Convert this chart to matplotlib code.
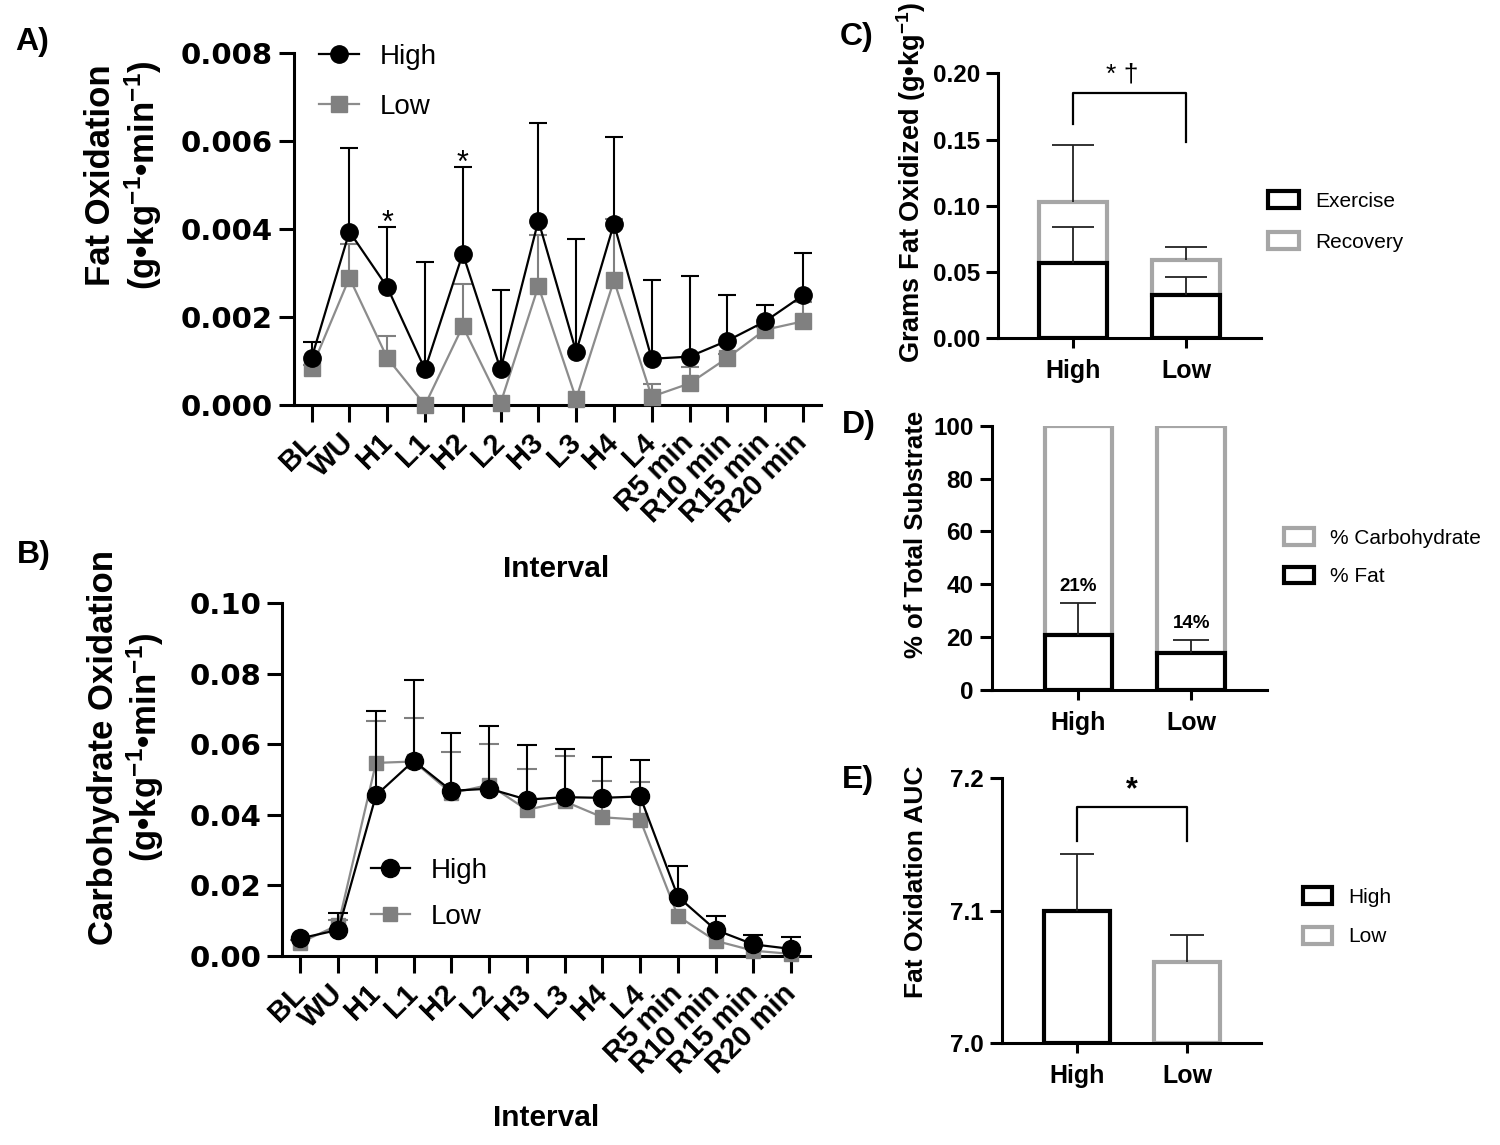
import numpy as np
import matplotlib
matplotlib.use("Agg")
import matplotlib.pyplot as plt
from matplotlib.lines import Line2D
from matplotlib.patches import Patch

plt.rcParams['font.family'] = ['Liberation Sans', 'DejaVu Sans']
plt.rcParams['mathtext.fontset'] = 'custom'
plt.rcParams['mathtext.rm'] = 'Liberation Sans'
plt.rcParams['mathtext.bf'] = 'Liberation Sans:bold'
plt.rcParams['mathtext.default'] = 'bf'

# ---- data ----
intervals = ['BL', 'WU', 'H1', 'L1', 'H2', 'L2', 'H3', 'L3', 'H4', 'L4',
             'R5 min', 'R10 min', 'R15 min', 'R20 min']

fat_high = [0.00107, 0.00394, 0.00268, 0.00081, 0.00344, 0.00081, 0.00419,
            0.00121, 0.00412, 0.00105, 0.00110, 0.00146, 0.00190, 0.00249]
fat_high_sd = [0.00037, 0.00189, 0.00136, 0.00244, 0.00196, 0.00181, 0.00221,
               0.00256, 0.00196, 0.00179, 0.00184, 0.00104, 0.00038, 0.00097]
fat_low = [0.00084, 0.00289, 0.00107, 0.00000, 0.00179, 0.00004, 0.00270,
           0.00014, 0.00283, 0.00019, 0.00049, 0.00107, 0.00171, 0.00190]
fat_low_sd = [0.00008, 0.00078, 0.00050, 0.0, 0.00095, 0.0, 0.00116,
              0.0, 0.00139, 0.00029, 0.00038, 0.00008, 0.00007, 0.00043]

cho_high = [0.0050, 0.0074, 0.0455, 0.0553, 0.0468, 0.0474, 0.0443,
            0.0450, 0.0448, 0.0452, 0.0168, 0.0074, 0.0033, 0.0020]
cho_high_sd = [0.0, 0.0049, 0.0240, 0.0228, 0.0163, 0.0178, 0.0156,
               0.0136, 0.0116, 0.0104, 0.0087, 0.0039, 0.0027, 0.0035]
cho_low = [0.0038, 0.0088, 0.0547, 0.0551, 0.0461, 0.0485, 0.0414,
           0.0438, 0.0393, 0.0386, 0.0113, 0.0043, 0.0015, 0.0006]
cho_low_sd = [0.0007, 0.0014, 0.0118, 0.0123, 0.0116, 0.0115, 0.0116,
              0.0128, 0.0104, 0.0108, 0.0, 0.0, 0.0, 0.0]

groups = ['High', 'Low']
gfat_exercise = [0.0566, 0.0325]
gfat_exercise_sd = [0.0277, 0.0140]
gfat_recovery = [0.0465, 0.0266]
gfat_recovery_sd = [0.0428, 0.0101]

pct_fat = [20.8, 14.0]
pct_fat_sd = [12.0, 4.8]
pct_fat_lbl = ['21%', '14%']
pct_cho = [79.2, 86.0]

auc = [7.100, 7.061]
auc_sd = [0.043, 0.021]

BLACK = 'black'
GRAY = '#808080'
LGRAY = '#a6a6a6'

W, H = 1500, 1145


def box(left, top, right, bottom):
    return [left / W, 1 - bottom / H, (right - left) / W, (bottom - top) / H]


def style(ax, xtl=8, ytl=11):
    for s in ['top', 'right']:
        ax.spines[s].set_visible(False)
    for s in ['left', 'bottom']:
        ax.spines[s].set_linewidth(2.2)
    ax.tick_params(axis='x', length=xtl, width=2.2)
    ax.tick_params(axis='y', length=ytl, width=2.2, pad=4)


def upper_err(ax, x, y, sd, color, lw, cap, z=3):
    x = np.asarray(x, float)
    y = np.asarray(y, float)
    sd = np.asarray(sd, float)
    m = sd > 0
    ax.vlines(x[m], y[m], y[m] + sd[m], color=color, lw=lw, zorder=z)
    ax.plot(x[m], y[m] + sd[m], ls='none', marker='_', ms=cap, mew=lw,
            color=color, zorder=z, clip_on=False)


fig = plt.figure(figsize=(15, 11.45), dpi=100)
xi = np.arange(len(intervals))

# ---- A) fat oxidation ----
axA = fig.add_axes(box(293.5, 53, 821, 405))
upper_err(axA, xi, fat_low, fat_low_sd, GRAY, 1.5, 13, z=2)
axA.plot(xi, fat_low, color='#8c8c8c', lw=1.6, marker='s', ms=11.5,
         mfc=GRAY, mec=GRAY, zorder=3, clip_on=False)
upper_err(axA, xi, fat_high, fat_high_sd, BLACK, 1.5, 13, z=4)
axA.plot(xi, fat_high, color=BLACK, lw=1.6, marker='o', ms=12.5,
         zorder=5, clip_on=False)
axA.set_xlim(-0.48, 13.48)
axA.set_ylim(0, 0.008)
ytA = np.arange(0, 0.0081, 0.002)
axA.set_yticks(ytA)
axA.set_yticklabels([f'{v:.3f}' for v in ytA], fontsize=21,
                    fontweight='bold', family='DejaVu Sans')
axA.set_xticks(xi)
axA.set_xticklabels(intervals, rotation=45, ha='right', va='center',
                    rotation_mode='anchor', fontsize=21, fontweight='bold')
style(axA, xtl=12, ytl=11)
axA.tick_params(axis='x', pad=12)
fh = np.asarray(fat_high) + np.asarray(fat_high_sd)
for i in [2, 4]:
    axA.text(i, fh[i] - 0.0001, '*', ha='center', va='baseline', fontsize=22)
fig.legend([Line2D([], [], color=BLACK, lw=1.6, marker='o', ms=12.5),
            Line2D([], [], color='#8c8c8c', lw=1.6, marker='s', ms=11.5,
                   mfc=GRAY, mec=GRAY)],
           ['High', 'Low'], loc='upper left',
           bbox_to_anchor=(319 / W, 1 - 44 / H), frameon=False,
           prop={'size': 20}, handlelength=1.45, handletextpad=0.75,
           labelspacing=0.85, borderpad=0, borderaxespad=0)
fig.text(124 / W, 1 - 175.5 / H, 'Fat Oxidation\n(g•kg$^{-1}$•min$^{-1}$)',
         rotation=90, ha='center', va='center', fontsize=25,
         fontweight='bold', linespacing=1.15)
fig.text(556 / W, 1 - 569 / H, 'Interval', ha='center', va='center',
         fontsize=21.5, fontweight='bold')

# ---- B) carbohydrate oxidation ----
axB = fig.add_axes(box(282, 603, 810, 956))
upper_err(axB, xi, cho_low, cho_low_sd, GRAY, 1.5, 14, z=2)
axB.plot(xi, cho_low, color='#8c8c8c', lw=1.6, marker='s', ms=10,
         mfc=GRAY, mec=GRAY, zorder=3, clip_on=False)
upper_err(axB, xi, cho_high, cho_high_sd, BLACK, 1.5, 14, z=4)
axB.plot(xi, cho_high, color=BLACK, lw=1.6, marker='o', ms=13,
         zorder=5, clip_on=False)
axB.set_xlim(-0.49, 13.5)
axB.set_ylim(0, 0.10)
ytB = np.arange(0, 0.101, 0.02)
axB.set_yticks(ytB)
axB.set_yticklabels([f'{v:.2f}' for v in ytB], fontsize=21,
                    fontweight='bold', family='DejaVu Sans')
axB.set_xticks(xi)
axB.set_xticklabels(intervals, rotation=45, ha='right', va='center',
                    rotation_mode='anchor', fontsize=21, fontweight='bold')
style(axB, xtl=12, ytl=11)
axB.tick_params(axis='x', pad=12)
fig.legend([Line2D([], [], color=BLACK, lw=1.6, marker='o', ms=13),
            Line2D([], [], color='#8c8c8c', lw=1.6, marker='s', ms=10,
                   mfc=GRAY, mec=GRAY)],
           ['High', 'Low'], loc='upper left',
           bbox_to_anchor=(371 / W, 1 - 858 / H), frameon=False,
           prop={'size': 20}, handlelength=1.4, handletextpad=0.75,
           labelspacing=0.72, borderpad=0, borderaxespad=0)
fig.text(126.5 / W, 1 - 747.5 / H,
         'Carbohydrate Oxidation\n(g•kg$^{-1}$•min$^{-1}$)',
         rotation=90, ha='center', va='center', fontsize=25,
         fontweight='bold', linespacing=1.15)
fig.text(546 / W, 1 - 1118 / H, 'Interval', ha='center', va='center',
         fontsize=21.5, fontweight='bold')

xg = np.arange(len(groups))
BW = 0.6


def bar_axes(ax, ymin, ymax, ticks, fmt):
    ax.set_ylim(ymin, ymax)
    ax.set_yticks(ticks)
    ax.set_yticklabels([fmt.format(v) for v in ticks], fontsize=17.5,
                       fontweight='bold')
    ax.set_xticks(xg)
    ax.set_xticklabels(groups, fontsize=18, fontweight='bold')
    style(ax, xtl=7, ytl=9)
    ax.tick_params(axis='x', pad=8)


# ---- C) grams fat oxidized ----
axC = fig.add_axes(box(998, 73.3, 1261, 338.3))
ex = np.asarray(gfat_exercise)
rec = np.asarray(gfat_recovery)
axC.bar(xg, rec, BW, bottom=ex, facecolor='white', edgecolor=LGRAY,
        lw=3, zorder=2)
axC.bar(xg, ex, BW, facecolor='white', edgecolor=BLACK, lw=3, zorder=3)
upper_err(axC, xg, ex, gfat_exercise_sd, '#222222', 1.3, 30, z=4)
upper_err(axC, xg, ex + rec, gfat_recovery_sd, '#222222', 1.3, 30, z=4)
axC.set_xlim(-0.66, 1.66)
bar_axes(axC, 0, 0.20, np.arange(0, 0.201, 0.05), '{:.2f}')
axC.plot([0, 0, 1, 1], [0.162, 0.185, 0.185, 0.148], color=BLACK, lw=1.6,
         clip_on=False)
axC.text(0.44, 0.199, '* †', ha='center', va='center', fontsize=19)
fig.text(911 / W, 1 - 363 / H, 'Grams Fat Oxidized (g•kg$^{-1}$)',
         rotation=90, ha='center', va='bottom', fontsize=19.5,
         fontweight='bold')
fig.legend([Patch(facecolor='white', edgecolor=BLACK, lw=3),
            Patch(facecolor='white', edgecolor=LGRAY, lw=3)],
           ['Exercise', 'Recovery'], loc='upper left',
           bbox_to_anchor=(1268 / W, 1 - 191 / H), frameon=False,
           prop={'size': 15}, handlelength=1.5, handleheight=0.85,
           handletextpad=0.75, labelspacing=1.05, borderpad=0,
           borderaxespad=0)

# ---- D) % of total substrate ----
axD = fig.add_axes(box(991.5, 425.7, 1267, 690))
pf = np.asarray(pct_fat)
axD.bar(xg, pct_cho, BW, bottom=pf, facecolor='white', edgecolor=LGRAY,
        lw=3, zorder=2)
axD.bar(xg, pf, BW, facecolor='white', edgecolor=BLACK, lw=3, zorder=3)
upper_err(axD, xg, pf, pct_fat_sd, '#222222', 1.3, 26, z=4)
for i, lbl in enumerate(pct_fat_lbl):
    axD.text(xg[i], pf[i] + pct_fat_sd[i] + 3, lbl, ha='center',
             va='bottom', fontsize=13.5, fontweight='bold')
axD.set_xlim(-0.77, 1.67)
bar_axes(axD, 0, 100, np.arange(0, 101, 20), '{:d}')
fig.text(915.7 / W, 1 - 534 / H, '% of Total Substrate', rotation=90,
         ha='center', va='center', fontsize=18.5, fontweight='bold')
fig.legend([Patch(facecolor='white', edgecolor=LGRAY, lw=3),
            Patch(facecolor='white', edgecolor=BLACK, lw=3)],
           ['% Carbohydrate', '% Fat'], loc='upper left',
           bbox_to_anchor=(1284 / W, 1 - 528 / H), frameon=False,
           prop={'size': 15}, handlelength=1.45, handleheight=0.85,
           handletextpad=0.75, labelspacing=0.92, borderpad=0,
           borderaxespad=0)

# ---- E) fat oxidation AUC ----
axE = fig.add_axes(box(1002, 778.3, 1261, 1043.3))
axE.bar(xg, np.asarray(auc) - 7.0, BW, bottom=7.0, facecolor='white',
        edgecolor=[BLACK, LGRAY], lw=3, zorder=2)
upper_err(axE, xg, auc, auc_sd, '#222222', 1.3, 24, z=4)
axE.set_xlim(-0.68, 1.67)
bar_axes(axE, 7.0, 7.2, [7.0, 7.1, 7.2], '{:.1f}')
axE.plot([0, 0, 1, 1], [7.153, 7.1786, 7.1786, 7.153], color=BLACK,
         lw=1.6, clip_on=False)
axE.text(0.5, 7.191, '*', ha='center', va='center', fontsize=22,
         fontweight='bold')
fig.text(915.7 / W, 1 - 881.5 / H, 'Fat Oxidation AUC', rotation=90,
         ha='center', va='center', fontsize=19, fontweight='bold')
fig.legend([Patch(facecolor='white', edgecolor=BLACK, lw=3),
            Patch(facecolor='white', edgecolor=LGRAY, lw=3)],
           ['High', 'Low'], loc='upper left',
           bbox_to_anchor=(1303 / W, 1 - 887 / H), frameon=False,
           prop={'size': 15}, handlelength=1.4, handleheight=0.85,
           handletextpad=0.75, labelspacing=0.98, borderpad=0,
           borderaxespad=0)

# panel letters
for lbl, px, py in [('A)', 15, 27), ('B)', 17, 540), ('C)', 840, 22),
                    ('D)', 842, 410), ('E)', 842, 765)]:
    fig.text(px / W, 1 - py / H, lbl, ha='left', va='top', fontsize=23,
             fontweight='bold')

fig.savefig('out.png', dpi=100)
